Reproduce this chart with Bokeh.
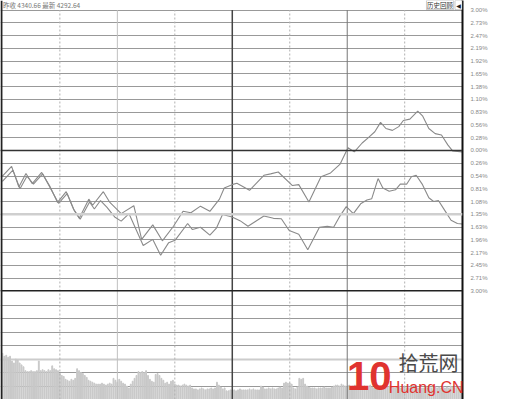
from bokeh.plotting import figure
from bokeh.models import Range1d, FixedTicker, Grid, Span, Label, BoxAnnotation
from bokeh.embed import file_html
from bokeh.resources import INLINE

# ---------------- data ----------------
line_a_min = [0, 4.8, 8.6, 12.3, 15.6, 20.5, 24.7, 28.8, 33.3, 37.1, 40.1, 45.1, 47.1, 52.7, 56.1,
              58.6, 62.0, 68.6, 72.7, 78.5, 83.5, 89.3, 94.3, 98.4, 103.4, 108.3, 113.3, 115.8,
              119.9, 122.4, 129.0, 136.5, 140.0, 144.0, 151.4, 154.7, 160.0, 166.3, 171.3, 176.3,
              180.4, 183.7, 187.8, 191.2, 194.4, 197.4, 200.2, 203.6, 206.9, 209.3, 212.7, 216.8,
              219.3, 222.6, 225.9, 229.2, 232.5, 235.0, 240]
line_a_pct = [-0.55, -0.34, -0.78, -0.49, -0.71, -0.47, -0.76, -1.11, -0.88, -1.25, -1.45, -1.04, -1.17,
              -0.88, -1.11, -1.21, -1.35, -1.18, -1.90, -1.59, -1.93, -1.62, -1.30, -1.33, -1.19, -1.30,
              -1.04, -0.80, -0.73, -0.70, -0.85, -0.53, -0.50, -0.46, -0.75, -0.73, -1.10, -0.56, -0.48,
              -0.29, 0.06, -0.03, 0.16, 0.28, 0.40, 0.60, 0.47, 0.43, 0.51, 0.64, 0.67, 0.84, 0.74,
              0.47, 0.36, 0.33, 0.12, -0.01, -0.03]

line_b_min = [0, 5.5, 9.2, 12.8, 16.2, 21.0, 25.0, 29.3, 33.8, 37.5, 40.6, 45.5, 48.0, 51.2, 54.5,
              58.6, 62.0, 66.1, 73.5, 78.5, 82.6, 86.8, 90.1, 96.7, 99.2, 103.4, 108.3, 111.7, 114.9,
              119.9, 124.0, 128.2, 136.5, 141.5, 145.6, 149.7, 154.7, 159.4, 165.5, 169.6, 172.9,
              175.9, 179.5, 183.2, 187.0, 190.3, 192.8, 196.1, 198.6, 201.9, 205.2, 207.7, 211.0,
              213.5, 216.0, 219.3, 222.6, 225.1, 227.6, 230.9, 234.2, 237.5, 240]
line_b_pct = [-0.66, -0.42, -0.82, -0.55, -0.72, -0.50, -0.80, -1.13, -0.92, -1.28, -1.47, -1.10, -1.25,
              -1.07, -1.21, -1.42, -1.51, -1.35, -2.03, -1.90, -2.24, -1.97, -1.92, -1.56, -1.69, -1.64,
              -1.81, -1.66, -1.37, -1.42, -1.50, -1.62, -1.40, -1.45, -1.46, -1.71, -1.79, -2.12, -1.64,
              -1.62, -1.64, -1.42, -1.20, -1.35, -1.14, -1.06, -1.03, -0.60, -0.80, -0.87, -0.84, -0.72,
              -0.72, -0.56, -0.53, -0.73, -1.01, -1.09, -1.07, -1.28, -1.49, -1.56, -1.57]

volume = [48, 45, 46, 44, 45, 40, 38, 42, 41, 38,
          36, 34, 30, 29, 29, 30, 29, 29, 30, 40,
          30, 31, 30, 29, 31, 30, 35, 32, 31, 30,
          27, 25, 24, 21, 20, 19, 21, 20, 22, 32,
          30, 28, 27, 25, 23, 20, 19, 18, 17, 16,
          16, 16, 17, 16, 15, 16, 17, 16, 22, 20,
          18, 21, 19, 17, 16, 14, 12, 16, 19, 22,
          25, 29, 28, 29, 28, 30, 25, 21, 19, 18,
          26, 27, 25, 22, 20, 17, 18, 16, 19, 20,
          16, 15, 15, 14, 15, 16, 15, 14, 15, 12,
          11, 11, 10, 11, 12, 11, 10, 11, 11, 12,
          11, 12, 18, 15, 13, 11, 12, 9, 9, 10,
          10, 10, 9, 10, 11, 10, 10, 10, 10, 11,
          10, 11, 10, 10, 10, 14, 13, 11, 11, 12,
          11, 12, 11, 11, 12, 13, 12, 17, 18, 17,
          17, 16, 12, 11, 13, 22, 21, 22, 16, 14,
          13, 12, 12, 12, 11, 12, 12, 12, 13, 12,
          12, 12, 13, 14, 15, 15, 14, 16, 15, 14,
          14, 15, 13, 14, 15, 14, 13, 12, 13, 14,
          13, 14, 15, 13, 12, 13, 14, 13, 12, 13,
          12, 13, 14, 13, 12, 12, 13, 14, 12, 13,
          13, 12, 12, 13, 14, 13, 12, 12, 13, 12,
          12, 13, 12, 13, 12, 14, 13, 12, 13, 12,
          13, 12, 13, 12, 14, 13, 12, 13, 12, 13, 14]
vol_minutes = list(range(len(volume)))

price_ticks = [k * 3 / 11 for k in range(-11, 12)]
price_tick_labels = ["3.00%", "2.71%", "2.45%", "2.17%", "1.96%", "1.63%", "1.35%", "1.08%", "0.81%",
                     "0.54%", "0.26%", "0.00%", "0.28%", "0.56%", "0.83%", "1.10%", "1.38%", "1.65%",
                     "1.92%", "2.19%", "2.47%", "2.73%", "3.00%"]
vol_grid = [14, 28, 56, 70, 84, 98]
vol_grid_light = [42]
time_dashed = [30, 90, 150, 210]
time_light = [60]
time_dark = [120]
time_mid = [180]

header_text = "昨收 4340.66 最新 4292.64"
button_text = "历史回顾"

# ---------------- geometry ----------------
W, H = 490, 399
SX, SY = 490 / 506, 399 / 415
PX_PER_MIN = SX * 2.0125
X_OFF = SX * 2.0
FRAME_W = 470
X0 = -X_OFF / PX_PER_MIN
X1 = (FRAME_W - X_OFF) / PX_PER_MIN
Y3_TOP, Y3_BOT = 10 * SY, 302 * SY
PPY = (Y3_BOT - Y3_TOP) / 6
Y_TOP = 3 + Y3_TOP / PPY
Y_BOT = -3 - (H - Y3_BOT) / PPY


def fx(rx):
    return (rx * SX - X_OFF) / PX_PER_MIN


def fy(ry):
    return Y_TOP - ry * SY / PPY


p = figure(width=W, height=H, output_backend="svg", toolbar_location=None,
           x_range=Range1d(X0, X1), y_range=Range1d(Y_BOT, Y_TOP),
           x_axis_location=None, y_axis_location="right",
           min_border=0, min_border_right=W - FRAME_W,
           outline_line_color=None, background_fill_color="white", border_fill_color="white")
p.extra_y_ranges = {"vol": Range1d(0, 415)}

ax = p.yaxis[0]
ax.ticker = FixedTicker(ticks=price_ticks)
ax.major_label_overrides = dict(zip(price_ticks, price_tick_labels))
ax.major_tick_line_color = None
ax.minor_tick_line_color = None
ax.axis_line_color = "#111111"
ax.axis_line_width = 2
ax.major_label_text_font = "Liberation Sans"
ax.major_label_text_font_size = "6px"
ax.major_label_text_color = "#888888"
ax.major_label_standoff = 2

p.xgrid.visible = False
p.ygrid.ticker = FixedTicker(ticks=price_ticks)
p.ygrid.grid_line_color = "#999999"
p.ygrid.grid_line_width = 1

p.add_layout(Grid(dimension=1, ticker=FixedTicker(ticks=vol_grid), y_range_name="vol",
                  grid_line_color="#999999", grid_line_width=1))
p.add_layout(Grid(dimension=1, ticker=FixedTicker(ticks=vol_grid_light), y_range_name="vol",
                  grid_line_color="#cccccc", grid_line_width=2))

p.add_layout(Span(location=0, dimension="width", line_color="#333333", line_width=1.5))
p.add_layout(Span(location=-3, dimension="width", line_color="#222222", line_width=1.5))
p.add_layout(Span(location=price_ticks[6], dimension="width", line_color="#cfcfcf", line_width=2.5))
p.add_layout(Span(location=fx(1), dimension="height", line_color="#222222", line_width=2))

# volume bars
p.vbar(x=vol_minutes, top=volume, bottom=0, width=0.45, y_range_name="vol",
       color="#c8c8c8")

# time grid lines
for grp, col, dash, lw in [(time_dashed, "#b0b0b0", "2 2", 1), (time_light, "#c0c0c0", "solid", 1),
                           (time_dark, "#444444", "solid", 1.5), (time_mid, "#777777", "solid", 1)]:
    p.segment(x0=grp, x1=grp, y0=[Y_BOT] * len(grp), y1=[3.0] * len(grp),
              line_color=col, line_dash=dash, line_width=lw)

# price lines
p.line(line_b_min, line_b_pct, line_color="#8a8a8a", line_width=1.1)
p.line(line_a_min, line_a_pct, line_color="#8a8a8a", line_width=1.1)

# header
p.add_layout(Label(x=fx(2.5), y=fy(4.5), text=header_text, text_font="Noto Sans CJK SC",
                   text_font_size="6.5px", text_color="#777777", text_baseline="middle"))
p.add_layout(BoxAnnotation(left=fx(447.5), right=fx(476), top=fy(0), bottom=fy(9.5),
                           fill_color="white", fill_alpha=1, line_color="#555555", line_width=1))
p.add_layout(Label(x=fx(461.75), y=fy(4.8), text=button_text, text_font="Noto Sans CJK SC",
                   text_font_size="6.5px", text_color="#333333", text_baseline="middle",
                   text_align="center"))
p.add_layout(BoxAnnotation(left=fx(477.5), right=fx(485), top=fy(0), bottom=fy(9.5),
                           fill_color="white", fill_alpha=1, line_color="#555555", line_width=1))
p.add_layout(Label(x=fx(481.2), y=fy(4.8), text="◀", text_font="DejaVu Sans",
                   text_font_size="6px", text_color="#222222", text_baseline="middle",
                   text_align="center"))

# watermark
p.add_layout(Label(x=fx(364), y=fy(391), text="10", text_font="Liberation Sans",
                   text_font_size="40px", text_font_style="bold", text_color="#e0332f",
                   text_baseline="middle"))
p.add_layout(Label(x=fx(418), y=fy(377), text="拾荒网", text_font="Noto Sans CJK SC",
                   text_font_size="20px", text_color="#4a4a4a", text_baseline="middle"))
p.add_layout(Label(x=fx(408), y=fy(403), text="Huang.CN", text_font="Liberation Sans",
                   text_font_size="16px", text_color="#e0332f", text_baseline="middle"))

open("out.html", "w").write(file_html(p, INLINE))
